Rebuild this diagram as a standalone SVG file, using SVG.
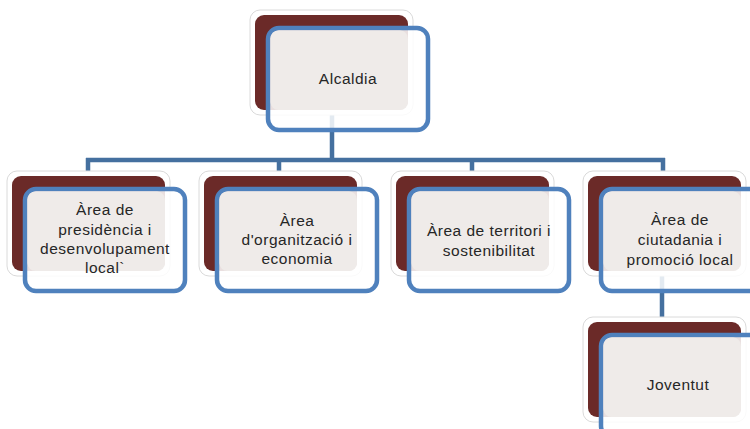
<svg xmlns="http://www.w3.org/2000/svg" width="750" height="429" viewBox="0 0 750 429">
<style>
.bk{fill:#ffffff;stroke:#dadada;stroke-width:1}
.dr{fill:#6b2a28}
.bl{fill:#ffffff;fill-opacity:0.85;stroke:#4f81bd;stroke-width:4.5}
.lt{fill:#efebe9}
.tx{font-family:"Liberation Sans",Arial,sans-serif;font-size:15.5px;fill:#262626;text-anchor:middle;letter-spacing:0.5px}
.cn{fill:none;stroke:#45709f;stroke-width:4.5}
</style>
<g id="connectors">
<path class="cn" d="M332 112V160M86 160H665M88 158V172M279 158V172M472 158V172M663 158V172M662 270V318"/>
</g>
<g id="alcaldia">
<rect class="bk" x="250" y="10" width="163" height="105" rx="10"/>
<rect class="dr" x="255" y="15" width="153" height="95" rx="9"/>
<rect class="bl" x="268" y="28" width="160" height="102" rx="11"/>
<rect class="lt" x="270.5" y="30.5" width="137.5" height="79.5" rx="8"/>
<text class="tx" x="348" y="84">Alcaldia</text>
</g>
<g id="presidencia">
<rect class="bk" x="7" y="171" width="163" height="105" rx="10"/>
<rect class="dr" x="12" y="176" width="153" height="95" rx="9"/>
<rect class="bl" x="25" y="189" width="160" height="102" rx="11"/>
<rect class="lt" x="27.5" y="191.5" width="137.5" height="79.5" rx="8"/>
<text class="tx" x="105" y="215">Àrea de</text>
<text class="tx" x="105" y="235">presidència i</text>
<text class="tx" x="105" y="254">desenvolupament</text>
<text class="tx" x="105" y="273">local`</text>
</g>
<g id="organitzacio">
<rect class="bk" x="199" y="171" width="163" height="105" rx="10"/>
<rect class="dr" x="204" y="176" width="153" height="95" rx="9"/>
<rect class="bl" x="217" y="189" width="160" height="102" rx="11"/>
<rect class="lt" x="219.5" y="191.5" width="137.5" height="79.5" rx="8"/>
<text class="tx" x="297" y="226">Àrea</text>
<text class="tx" x="297" y="245">d'organització i</text>
<text class="tx" x="297" y="264">economia</text>
</g>
<g id="territori">
<rect class="bk" x="391" y="171" width="163" height="105" rx="10"/>
<rect class="dr" x="396" y="176" width="153" height="95" rx="9"/>
<rect class="bl" x="409" y="189" width="160" height="102" rx="11"/>
<rect class="lt" x="411.5" y="191.5" width="137.5" height="79.5" rx="8"/>
<text class="tx" x="489" y="236">Àrea de territori i</text>
<text class="tx" x="489" y="256">sostenibilitat</text>
</g>
<g id="ciutadania">
<rect class="bk" x="583" y="171" width="163" height="105" rx="10"/>
<rect class="dr" x="588" y="176" width="153" height="95" rx="9"/>
<rect class="bl" x="601" y="189" width="160" height="102" rx="11"/>
<rect class="lt" x="603.5" y="191.5" width="137.5" height="79.5" rx="8"/>
<text class="tx" x="680" y="225">Àrea de</text>
<text class="tx" x="680" y="245">ciutadania i</text>
<text class="tx" x="680" y="265">promoció local</text>
</g>
<g id="joventut">
<rect class="bk" x="583" y="317" width="163" height="105" rx="10"/>
<rect class="dr" x="588" y="322" width="153" height="95" rx="9"/>
<rect class="bl" x="601" y="335" width="160" height="102" rx="11"/>
<rect class="lt" x="603.5" y="337.5" width="137.5" height="79.5" rx="8"/>
<text class="tx" x="678" y="390">Joventut</text>
</g>
</svg>
